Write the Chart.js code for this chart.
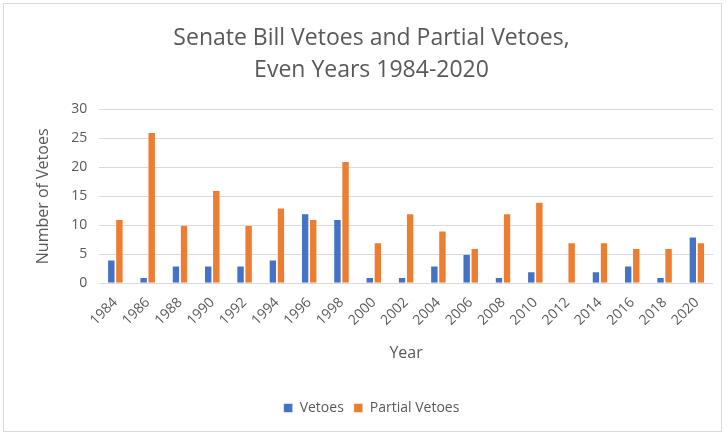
<!DOCTYPE html>
<html>
<head>
<meta charset="utf-8">
<script src="https://cdn.jsdelivr.net/npm/chart.js@4"></script>
<style>
  html, body { margin: 0; padding: 0; background: #fff; }
  #wrap { position: absolute; left: 3px; top: 3px; width: 719px; height: 429px; border: 1px solid #d9d9d9; box-sizing: border-box; }
</style>
</head>
<body>
<div id="wrap"><canvas id="vetoChart"></canvas></div>
<script>
// Even years 1984-2020
const years = ['1984', '1986', '1988', '1990', '1992', '1994', '1996', '1998', '2000', '2002',
    '2004', '2006', '2008', '2010', '2012', '2014', '2016', '2018', '2020'];
const vetoes = [4, 1, 3, 3, 3, 4, 12, 11, 1, 1, 3, 5, 1, 2, 0, 2, 3, 1, 8];
const partialVetoes = [11, 26, 10, 16, 10, 13, 11, 21, 7, 12, 9, 6, 12, 14, 7, 7, 6, 6, 7];

const grey = '#595959';
const font = 'Open Sans, Noto Sans, sans-serif';

function initVetoChart() {
    const ctx = document.getElementById('vetoChart').getContext('2d');
    new Chart(ctx, {
        type: 'bar',
        data: {
            labels: years,
            datasets: [{
                label: 'Vetoes',
                data: vetoes,
                backgroundColor: '#4472c4',
                borderColor: '#ffffff',
                borderWidth: 0.5,
                categoryPercentage: 0.5,
                barPercentage: 0.92
            }, {
                label: 'Partial Vetoes',
                data: partialVetoes,
                backgroundColor: '#ed7d31',
                borderColor: '#ffffff',
                borderWidth: 0.5,
                categoryPercentage: 0.5,
                barPercentage: 0.92
            }]
        },
        options: {
            responsive: true,
            maintainAspectRatio: false,
            animation: false,
            layout: { padding: { left: 26, right: 8, top: 18, bottom: 6 } },
            plugins: {
                title: {
                    display: true,
                    text: ['Senate Bill Vetoes and Partial Vetoes,', 'Even Years 1984-2020'],
                    color: grey,
                    font: { family: font, size: 23, weight: 'normal', lineHeight: 1.4 },
                    padding: { top: 0, bottom: 23 }
                },
                legend: {
                    position: 'bottom',
                    labels: {
                        color: grey,
                        font: { family: font, size: 14 },
                        boxWidth: 9,
                        boxHeight: 9,
                        padding: 10
                    }
                },
                tooltip: { enabled: false }
            },
            scales: {
                x: {
                    grid: { display: false },
                    border: { display: false },
                    ticks: { color: grey, font: { family: font, size: 14 }, minRotation: 45, maxRotation: 45 },
                    title: { display: true, text: 'Year', color: grey, font: { family: font, size: 16 }, padding: { top: 12, bottom: 28 } }
                },
                y: {
                    min: 0,
                    max: 30,
                    ticks: { stepSize: 5, color: grey, font: { family: font, size: 14 }, padding: 12 },
                    grid: { color: '#d9d9d9', lineWidth: 1, drawTicks: false },
                    border: { display: false },
                    title: { display: true, text: 'Number of Vetoes', color: grey, font: { family: font, size: 16 }, padding: { bottom: 6 } }
                }
            }
        }
    });
}

document.addEventListener('DOMContentLoaded', () => {
    initVetoChart();
});
</script>
</body>
</html>
